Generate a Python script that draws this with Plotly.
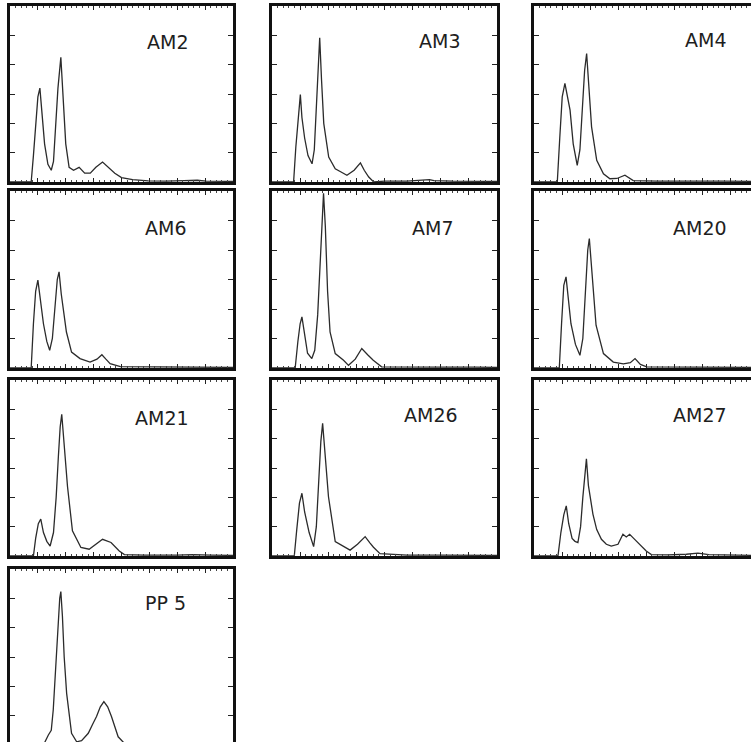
import plotly.graph_objects as go

# ---- data (x: % of channel range, y: counts in tick units 0-6) ----
labels = ["AM2", "AM3", "AM4", "AM6", "AM7", "AM20", "AM21", "AM26", "AM27", "PP 5"]

am2_x = [0, 9.5, 10.5, 11.5, 12.5, 13.4, 14.3, 15.5, 17, 18.5, 19.5, 20.5, 21.5, 22.8, 23.8, 25, 26.5, 28.5, 31, 33.5, 36, 38.5, 41.5, 44, 47, 50, 55, 62, 70, 78, 84, 88, 100]
am2_y = [0, 0, 0.9, 2.0, 2.9, 3.2, 2.4, 1.3, 0.6, 0.4, 0.7, 1.8, 3.2, 4.25, 3.0, 1.3, 0.5, 0.4, 0.5, 0.3, 0.3, 0.5, 0.68, 0.5, 0.3, 0.15, 0.08, 0.04, 0.03, 0.05, 0.06, 0.03, 0.02]

am3_x = [0, 9.6, 10.6, 11.5, 12.1, 12.6, 13.3, 14.5, 16, 17.8, 18.8, 19.7, 20.4, 21.2, 22, 23, 25.2, 28.1, 30.5, 33.3, 36.5, 39.3, 41, 43, 45.2, 50, 60, 66, 70, 72, 80, 100]
am3_y = [0, 0, 1.2, 2.0, 2.3, 2.98, 2.2, 1.5, 0.9, 0.62, 1.1, 2.4, 3.8, 4.92, 3.5, 2.0, 0.85, 0.45, 0.35, 0.23, 0.4, 0.65, 0.4, 0.17, 0.0, 0.03, 0.03, 0.06, 0.08, 0.05, 0.03, 0.02]

am4_x = [0, 10.4, 11.5, 12.6, 13.8, 14.8, 16.1, 17.5, 19.3, 20.5, 21.7, 22.6, 23.5, 24.5, 25.7, 28, 31, 33.9, 37, 40.6, 44.3, 55, 70, 85, 100]
am4_y = [0, 0, 1.5, 2.9, 3.36, 2.9, 2.45, 1.3, 0.57, 1.1, 2.6, 3.8, 4.38, 3.2, 1.88, 0.74, 0.28, 0.11, 0.12, 0.23, 0.05, 0.03, 0.04, 0.03, 0.02]

am6_x = [0, 9.5, 10.5, 11.5, 12.5, 13.5, 15, 16.5, 17.8, 19, 20.2, 21.2, 22, 23, 25.3, 27.6, 31.4, 35.9, 39, 41.2, 43, 44.9, 49.5, 60, 75, 90, 100]
am6_y = [0, 0, 1.5, 2.6, 2.98, 2.4, 1.5, 0.9, 0.6, 1.0, 2.2, 3.0, 3.26, 2.5, 1.22, 0.54, 0.32, 0.2, 0.3, 0.45, 0.3, 0.15, 0.05, 0.04, 0.03, 0.03, 0.02]

am7_x = [0, 10.3, 11.5, 12.5, 13.3, 14.3, 15.8, 17.7, 19, 20.3, 21.3, 22.2, 22.9, 23.7, 24.7, 25.8, 28.1, 31.8, 34, 37, 39.9, 42.5, 45, 48.7, 60, 75, 90, 100]
am7_y = [0, 0, 0.9, 1.5, 1.73, 1.2, 0.5, 0.32, 0.6, 1.8, 3.6, 5.2, 5.92, 4.8, 2.6, 1.22, 0.49, 0.26, 0.09, 0.3, 0.66, 0.45, 0.26, 0.04, 0.03, 0.03, 0.03, 0.02]

am20_x = [0, 11.3, 12.3, 13.3, 14.3, 15.3, 16.5, 18.5, 20.5, 21.8, 23, 24, 24.7, 25.7, 27.7, 31, 35.4, 39.9, 43, 45.1, 47.5, 50.3, 60, 75, 90, 100]
am20_y = [0, 0, 1.5, 2.8, 3.09, 2.3, 1.5, 0.8, 0.43, 1.0, 2.8, 4.0, 4.39, 3.3, 1.45, 0.49, 0.2, 0.14, 0.18, 0.32, 0.12, 0.04, 0.03, 0.03, 0.02, 0.02]

am21_x = [0, 10.5, 11.5, 12.7, 13.8, 15, 16.5, 18, 19.5, 20.7, 21.7, 22.5, 23.2, 24.2, 25.8, 28, 31.8, 35.5, 38.5, 41.5, 45.3, 49, 51.3, 60, 75, 82, 90, 100]
am21_y = [0, 0, 0.6, 1.1, 1.26, 0.8, 0.5, 0.34, 0.8, 2.0, 3.4, 4.4, 4.83, 3.9, 2.36, 0.86, 0.29, 0.23, 0.4, 0.57, 0.46, 0.17, 0.05, 0.03, 0.03, 0.05, 0.03, 0.02]

am26_x = [0, 9.9, 11, 12.2, 13.3, 14.5, 16.5, 18.5, 19.7, 20.8, 21.7, 22.5, 23.5, 25.1, 28.1, 31.8, 34.7, 38, 41.4, 43.5, 45.1, 48, 60, 75, 90, 100]
am26_y = [0, 0, 0.9, 1.8, 2.14, 1.5, 0.8, 0.32, 1.0, 2.6, 3.9, 4.52, 3.6, 2.02, 0.49, 0.32, 0.2, 0.4, 0.66, 0.45, 0.3, 0.08, 0.03, 0.03, 0.02, 0.02]

am27_x = [0, 10.7, 12, 13.3, 14.4, 15.5, 17, 18.3, 19.6, 20.8, 21.8, 22.7, 23.4, 24.3, 26.3, 28, 30.1, 32.3, 34.5, 37.5, 39.7, 41.2, 42.7, 44.5, 46.4, 50.1, 52.4, 60, 68, 73.2, 78, 90, 100]
am27_y = [0, 0, 0.8, 1.4, 1.71, 1.1, 0.6, 0.5, 0.46, 1.0, 2.0, 2.9, 3.31, 2.4, 1.43, 0.9, 0.57, 0.4, 0.34, 0.4, 0.74, 0.65, 0.74, 0.6, 0.46, 0.17, 0.05, 0.04, 0.06, 0.1, 0.05, 0.03, 0.02]

pp5_x = [0, 15, 17.2, 18.5, 19.4, 20.5, 21.5, 22.3, 22.8, 23.5, 24.3, 25.4, 27.6, 29.9, 32.1, 35.1, 37, 38.8, 40.5, 42.1, 43.8, 45.5, 48.5, 51.5, 60, 70, 76.1, 80, 90, 100]
pp5_y = [0, 0, 0.34, 0.5, 1.2, 2.8, 4.2, 5.0, 5.23, 4.4, 3.0, 1.76, 0.4, 0.11, 0.15, 0.4, 0.7, 0.97, 1.3, 1.48, 1.3, 0.97, 0.28, 0.04, 0.03, 0.03, 0.07, 0.04, 0.03, 0.02]

series = [(am2_x, am2_y), (am3_x, am3_y), (am4_x, am4_y), (am6_x, am6_y), (am7_x, am7_y),
          (am20_x, am20_y), (am21_x, am21_y), (am26_x, am26_y), (am27_x, am27_y), (pp5_x, pp5_y)]

# ---- layout (pixel geometry) ----
W, H = 751, 742
PANEL_W, PANEL_H = 224, 176
col_px = [(10, 233), (272, 497), (534, 751)]
row_px = [(6, 182), (191, 368), (380, 556), (569, 742)]
grid = [(0, 0), (0, 1), (0, 2), (1, 0), (1, 1), (1, 2), (2, 0), (2, 1), (2, 2), (3, 0)]
label_px = [(167, 42), (440, 41), (705, 40), (165, 228), (432, 228), (700, 228),
            (162, 418), (431, 415), (700, 415), (165, 603)]

fig = go.Figure()
layout = dict(width=W, height=H, margin=dict(l=0, r=0, t=0, b=0),
              paper_bgcolor="white", plot_bgcolor="white", showlegend=False)
annotations = []
for i, ((xs, ys), (r, c)) in enumerate(zip(series, grid)):
    n = i + 1
    sfx = "" if n == 1 else str(n)
    x0, x1 = col_px[c]
    y0, y1 = row_px[r]
    fig.add_trace(go.Scatter(x=xs, y=ys, mode="lines",
                             line=dict(color="#2b2b2b", width=1.3),
                             xaxis="x" + sfx, yaxis="y" + sfx, hoverinfo="skip"))
    xmax = 100 if c < 2 else 100 * (x1 - x0) / PANEL_W
    ymin = 0 if r < 3 else 6 * (1 - (y1 - y0) / PANEL_H)
    xa = dict(domain=[x0 / W, x1 / W], range=[0, xmax], anchor="y" + sfx,
              showline=True, linewidth=2.5, linecolor="#111",
              ticks="inside", ticklen=4, tickwidth=1, tickcolor="#222",
              tick0=0, dtick=12.5, showticklabels=False, showgrid=False, zeroline=False,
              minor=dict(ticks="inside", ticklen=2, tickwidth=1, tickcolor="#444", dtick=2.5, showgrid=False),
              fixedrange=True)
    if r == 3:
        xa.update(side="top", mirror=False)
    else:
        xa.update(mirror="allticks")
    ya = dict(domain=[1 - y1 / H, 1 - y0 / H], range=[ymin, 6], anchor="x" + sfx,
              showline=True, linewidth=2.5, linecolor="#111",
              ticks="inside", ticklen=5, tickwidth=1, tickcolor="#222",
              tick0=0, dtick=1, showticklabels=False, showgrid=False, zeroline=False,
              mirror=("ticks" if c < 2 else False), fixedrange=True)
    layout["xaxis" + sfx] = xa
    layout["yaxis" + sfx] = ya
    lx, ly = label_px[i]
    annotations.append(dict(text=labels[i], x=lx / W, y=1 - ly / H, xref="paper", yref="paper",
                            showarrow=False, xanchor="center", yanchor="middle",
                            font=dict(family="DejaVu Sans", size=19, color="#1e1e1e")))
layout["annotations"] = annotations
fig.update_layout(**layout)
fig.write_html("out.html", config={"displayModeBar": False},
               post_script="document.body.style.margin='0px';document.body.style.overflow='hidden';")
